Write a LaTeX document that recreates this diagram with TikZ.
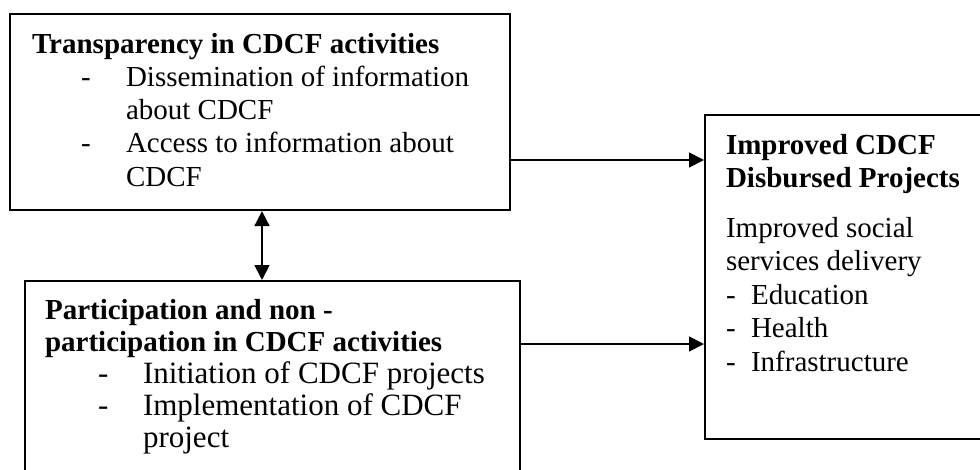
\documentclass[tikz,border=0pt]{standalone}
\usepackage{fontspec}
\setmainfont{Liberation Serif}
\usetikzlibrary{arrows.meta}

\newcommand{\dashat}[1]{\noindent\llap{\makebox[#1][l]{-}}}

\begin{document}
\begin{tikzpicture}[x=1pt, y=-1pt,
        arr/.style={line width=1.7pt, -{Triangle[length=15pt, width=15pt]}},
        dblarr/.style={line width=1.7pt, {Triangle[length=15pt, width=15pt]}-{Triangle[length=15pt, width=15pt]}}
    ]
            \useasboundingbox (0,0) rectangle (980,469);
            \begin{scope}[
                    every node/.style={draw, line width=2.1pt, inner sep=0pt, anchor=north west}
                ]

                \node (transp) at (9,13) {\parbox[t][196pt][t]{500pt}{%
                    \raggedright\fontsize{29}{33.3}\selectfont\leftskip=22pt
                    \rule{0pt}{39pt}\textbf{Transparency in CDCF activities}\par
                    \leftskip=116pt
                    \dashat{45pt}Dissemination of information\\about CDCF\par
                    \dashat{45pt}Access to information about\\CDCF\par}};

                \node (partic) at (24,280) {\parbox[t][230pt][t]{495pt}{%
                    \raggedright\fontsize{29}{32}\selectfont\leftskip=20pt
                    \rule{0pt}{38pt}\textbf{Participation and non -}\\
                    \textbf{participation in CDCF activities}\par
                    \fontsize{31}{32}\selectfont\leftskip=118pt
                    \dashat{45pt}Initiation of CDCF projects\par
                    \dashat{45pt}Implementation of CDCF\\project\par}};

                \node (outcome) at (704,114) {\parbox[t][324pt][t]{290pt}{%
                    \raggedright\fontsize{29}{33.5}\selectfont\leftskip=21pt
                    \rule{0pt}{39pt}\textbf{Improved CDCF}\\
                    \textbf{Disbursed Projects}\par
                    \vspace{16pt}
                    Improved social\\services delivery\par
                    \leftskip=46pt
                    \dashat{25pt}Education\par
                    \dashat{25pt}Health\par
                    \dashat{25pt}Infrastructure\par}};
            \end{scope}

            \draw[arr] (transp.east |- 0,160) -- (outcome.west |- 0,160);
            \draw[arr] (partic.east |- 0,344) -- (outcome.west |- 0,344);
            \draw[dblarr] (transp.south -| 262,0) -- (partic.north -| 262,0);
        \end{tikzpicture}
\end{document}
